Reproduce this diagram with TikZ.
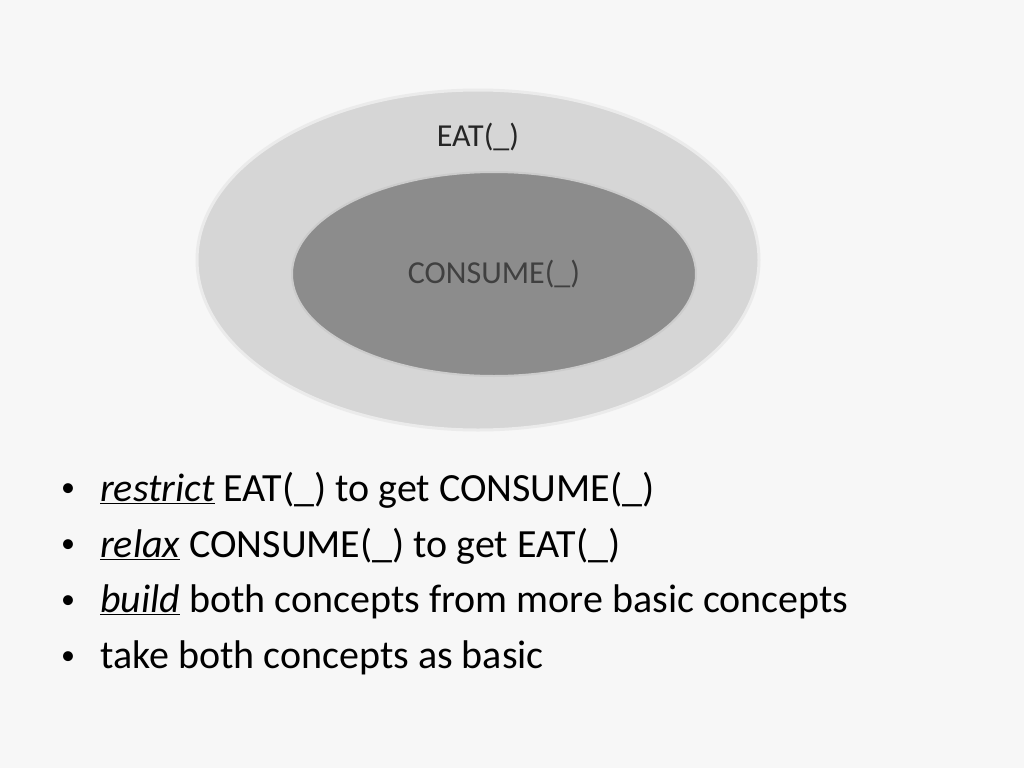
\documentclass[tikz,border=0pt]{standalone}
\usepackage{fontspec}
\setmainfont{Carlito}
\begin{document}
\begin{tikzpicture}[x=1pt,y=-1pt,
  lbl/.style={font=\fontsize{32}{36}\selectfont, text=black!75},
  item/.style={anchor=west, font=\fontsize{40}{46}\selectfont, inner sep=0pt},
  dot/.style={anchor=center, font=\fontsize{28}{32}\selectfont, inner sep=0pt}]
\fill[black!3] (0,0) rectangle (1024,768);
\useasboundingbox (0,0) rectangle (1024,768);
\fill[black!16, draw=black!8, line width=3pt] (478,260) ellipse [x radius=281, y radius=170];
\fill[black!45, draw=black!20, line width=2pt] (494,274) ellipse [x radius=202, y radius=102];
\node[lbl, text=black!85] (eat) at (478,137) {EAT(\_)};
\node[lbl] (con) at (494,274) {CONSUME(\_)};
\node[dot] (b1) at (68,490) {•};
\node[dot] (b2) at (68,546) {•};
\node[dot] (b3) at (68,602) {•};
\node[dot] (b4) at (68,658) {•};
\node[item] (t1) at (100,490) {\underline{\textit{restrict}} EAT(\_) to get CONSUME(\_)};
\node[item] (t2) at (100,546) {\underline{\textit{relax}} CONSUME(\_) to get EAT(\_)};
\node[item] (t3) at (100,602) {\underline{\textit{build}} both concepts from more basic concepts};
\node[item] (t4) at (100,658) {take both concepts as basic};
\end{tikzpicture}
\end{document}
